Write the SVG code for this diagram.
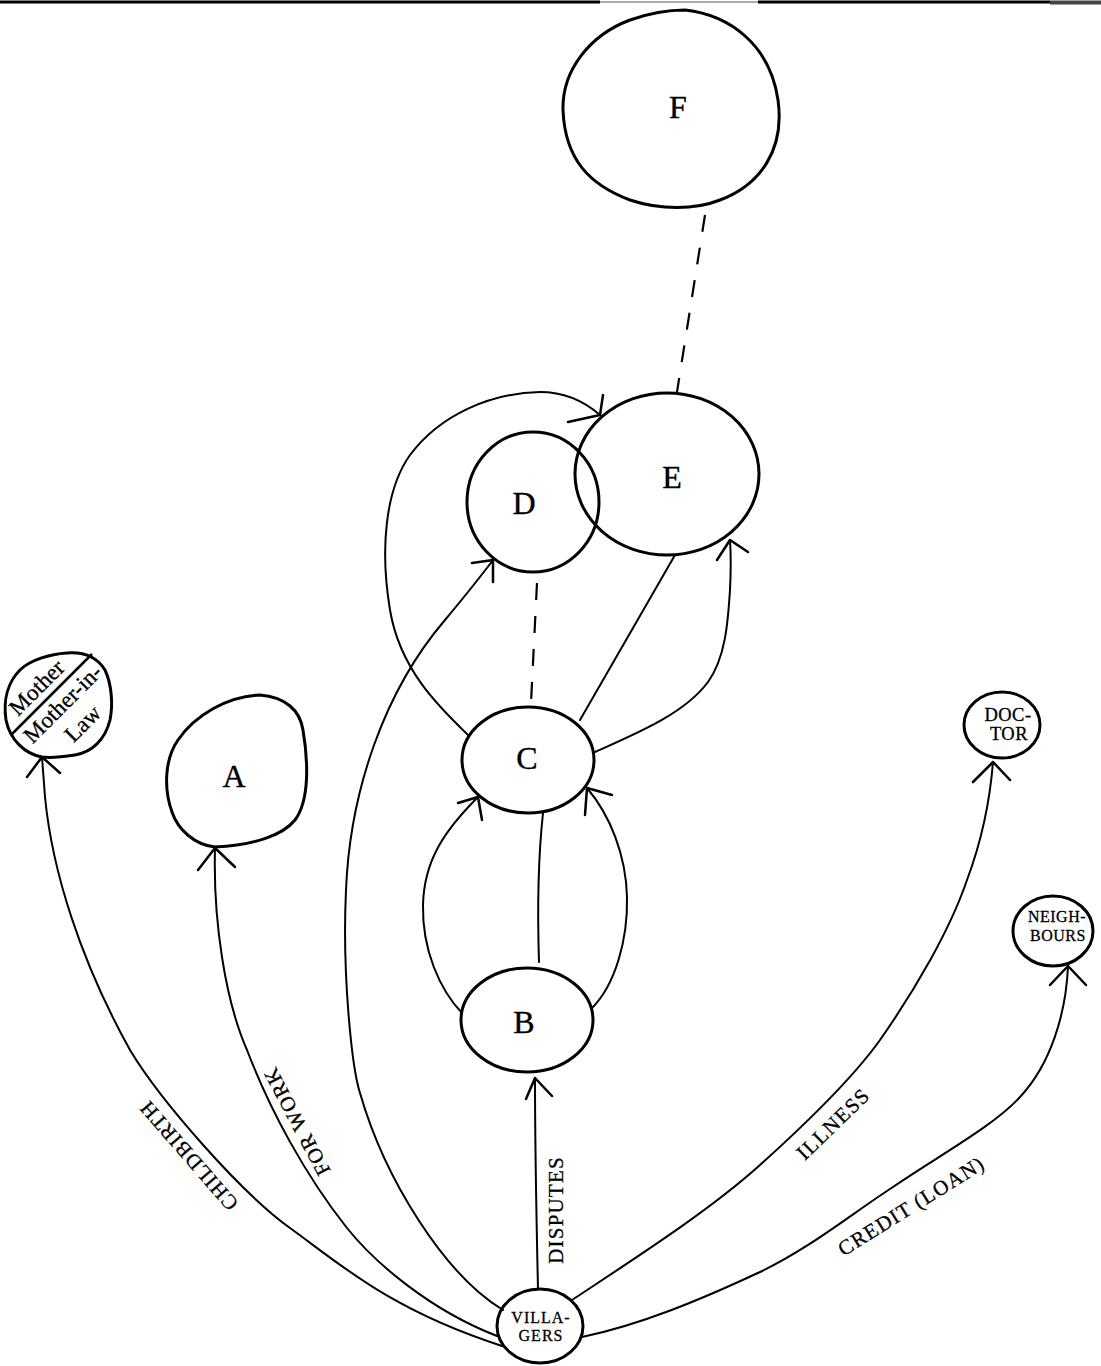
<svg xmlns="http://www.w3.org/2000/svg" width="1101" height="1366" viewBox="0 0 1101 1366">
<style>
.node{fill:none;stroke:#000;stroke-width:3;stroke-linejoin:round}
.edge{fill:none;stroke:#000;stroke-width:2;stroke-linecap:round}
.dash{fill:none;stroke:#000;stroke-width:2.2;stroke-dasharray:17 16}
.ah{fill:none;stroke:#000;stroke-width:2.5;stroke-linecap:round;stroke-linejoin:round}
.big{font-family:"Liberation Serif",serif;font-size:32px;text-anchor:middle;fill:#000;stroke:#000;stroke-width:0.4px}
.sm{font-family:"Liberation Serif",serif;font-size:16px;text-anchor:middle;fill:#000;letter-spacing:1px;stroke:#000;stroke-width:0.3px}
.lbl{font-family:"Liberation Serif",serif;font-size:21px;text-anchor:middle;fill:#000;letter-spacing:1.2px;stroke:#000;stroke-width:0.3px}
.ml{font-family:"Liberation Serif",serif;font-size:23px;text-anchor:middle;fill:#000;stroke:#000;stroke-width:0.3px}
</style>
<rect width="1101" height="1366" fill="#fff"/>
<g id="page-rule">
<line x1="0" y1="2" x2="600" y2="2" stroke="#000" stroke-width="3"/>
<line x1="600" y1="2" x2="758" y2="2" stroke="#aaa" stroke-width="2"/>
<line x1="758" y1="2" x2="1050" y2="2" stroke="#000" stroke-width="3"/>
<line x1="1050" y1="2.5" x2="1101" y2="2.5" stroke="#444" stroke-width="4"/>
</g>
<g id="connectors">
<path class="dash" d="M 705,215 L 677,392"/>
<path class="dash" d="M 537,583 L 531,703"/>
<path class="edge" d="M 468,735 C 440,708 400,670 390,610 C 380,550 385,490 410,455 C 440,415 490,393 540,392 C 565,392 585,402 600,415"/>
<path class="ah" d="M 568,422 L 600,415 L 603,395"/>
<path class="edge" d="M 580,720 L 675,555"/>
<path class="edge" d="M 595,752 C 640,732 685,713 708,682 C 726,657 728,620 730,590 C 731,570 731,555 730,540"/>
<path class="ah" d="M 717,560 L 730,540 L 748,552"/>
<path class="edge" d="M 462,1013 C 440,990 422,950 423,905 C 424,860 445,830 478,797"/>
<path class="ah" d="M 458,803 L 478,797 L 482,820"/>
<path class="edge" d="M 539,962 C 537,900 539,850 543,813"/>
<path class="edge" d="M 592,1008 C 615,985 628,940 627,897 C 626,855 610,815 587,788"/>
<path class="ah" d="M 612,795 L 587,788 L 585,815"/>
<path class="edge" d="M 538,1289 C 536,1200 535,1130 535,1078"/>
<path class="ah" d="M 526,1099 L 535,1078 L 552,1096"/>
<path class="edge" d="M 503,1310 C 445,1275 385,1180 360,1093 C 352,1068 342,975 346,890 C 350,790 385,690 445,620 C 460,602 478,580 493,560"/>
<path class="ah" d="M 472,563 L 493,560 L 493,582"/>
<path class="edge" d="M 497,1336 C 430,1310 375,1263 347,1228 C 305,1175 270,1110 247,1050 C 225,1000 213,920 215,848"/>
<path class="ah" d="M 198,870 L 215,848 L 235,867"/>
<path class="edge" d="M 502,1346 C 390,1310 340,1264 290,1228 C 240,1192 160,1100 130,1050 C 80,960 52,870 45,797 L 42,757"/>
<path class="ah" d="M 27,777 L 42,757 L 60,773"/>
<path class="edge" d="M 572,1300 C 640,1255 710,1210 760,1165 C 810,1120 855,1075 880,1040 C 915,990 950,930 967,880 C 982,840 990,800 993,762"/>
<path class="ah" d="M 973,782 L 993,762 L 1010,780"/>
<path class="edge" d="M 582,1337 C 640,1325 700,1300 760,1272 C 810,1248 850,1215 893,1187 C 940,1155 995,1125 1020,1097 C 1050,1065 1066,1015 1068,966"/>
<path class="ah" d="M 1050,985 L 1068,966 L 1086,985"/>
<text class="lbl" transform="translate(194,1151) rotate(-131)">CHILDBIRTH</text>
<text class="lbl" transform="translate(303,1118) rotate(-118)">FOR WORK</text>
<text class="lbl" transform="translate(563,1210) rotate(-90)">DISPUTES</text>
<text class="lbl" transform="translate(838,1129) rotate(-44)">ILLNESS</text>
<text class="lbl" transform="translate(915,1212) rotate(-32)">CREDIT (LOAN)</text>
</g>
<g id="node-F">
<path class="node" d="M 685,10 C 730,15 770,45 778,100 C 785,150 760,185 720,200 C 695,210 660,210 630,200 C 590,185 565,160 563,110 C 562,70 590,35 630,20 C 650,13 668,10 685,10 Z"/>
<text class="big" x="678" y="118">F</text>
</g>
<g id="node-E">
<ellipse class="node" cx="667" cy="474" rx="92" ry="81"/>
<text class="big" x="672" y="488">E</text>
</g>
<g id="node-D">
<ellipse class="node" cx="533" cy="502" rx="66" ry="70"/>
<text class="big" x="524" y="514">D</text>
</g>
<g id="node-C">
<ellipse class="node" cx="528" cy="760" rx="66" ry="53"/>
<text class="big" x="527" y="769">C</text>
</g>
<g id="node-B">
<ellipse class="node" cx="527" cy="1020" rx="66" ry="52"/>
<text class="big" x="524" y="1033">B</text>
</g>
<g id="node-A">
<path class="node" d="M 260,695 C 285,697 300,710 303,730 C 308,760 310,800 295,820 C 283,835 255,845 215,847 C 195,845 178,830 172,812 C 164,790 164,760 178,740 C 195,715 228,696 260,695 Z"/>
<text class="big" x="234" y="787">A</text>
</g>
<g id="node-mother">
<path class="node" d="M 67,653 C 80,652 95,654 105,670 C 112,685 113,705 110,720 C 105,740 92,752 75,755 C 62,757 50,758 42,757 C 25,754 10,740 6,720 C 3,700 8,682 20,670 C 30,660 50,654 67,653 Z"/>
<line x1="12" y1="734" x2="92" y2="654" stroke="#000" stroke-width="2.5"/>
<text class="ml" transform="translate(42,693) rotate(-45)">Mother</text>
<text class="ml" transform="translate(68,709) rotate(-45)">Mother-in-</text>
<text class="ml" transform="translate(88,729) rotate(-45)">Law</text>
</g>
<g id="node-doctor">
<ellipse class="node" cx="1002" cy="725" rx="38" ry="33"/>
<text class="sm" style="font-size:18.5px;letter-spacing:0.5px" x="1008" y="721">DOC-</text>
<text class="sm" style="font-size:18.5px;letter-spacing:0.5px" x="1009" y="740">TOR</text>
</g>
<g id="node-neighbours">
<ellipse class="node" cx="1053" cy="931" rx="40" ry="35"/>
<text class="sm" style="letter-spacing:0.5px" x="1057" y="922">NEIGH-</text>
<text class="sm" style="letter-spacing:0.5px" x="1058" y="941">BOURS</text>
</g>
<g id="node-villagers">
<ellipse class="node" cx="540" cy="1326" rx="43" ry="37"/>
<text class="sm" x="541" y="1323">VILLA-</text>
<text class="sm" x="541" y="1341">GERS</text>
</g>
</svg>
